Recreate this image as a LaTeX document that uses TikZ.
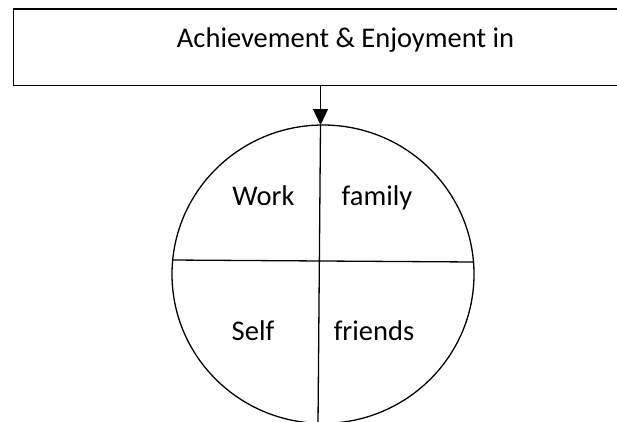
\documentclass[tikz,border=0pt]{standalone}
\usepackage{fontspec}
\setmainfont{Carlito}
\usetikzlibrary{arrows.meta,shapes.geometric}
\begin{document}
\begin{tikzpicture}[x=1pt,y=-1pt,
  frame/.style={draw=black,line width=1.5pt,inner sep=0pt},
  wheel/.style={draw=black,line width=1.3pt,ellipse,inner sep=0pt},
  divider/.style={draw=black,line width=1.3pt},
  label/.style={anchor=base,inner sep=0pt,font=\fontsize{28.5}{34}\selectfont},
  feed/.style={draw=black,line width=1.3pt,-{Triangle[length=16pt,width=15pt]}}]
  % canvas
  \fill[white] (0,0) rectangle (617,421);
  \useasboundingbox (0,0) rectangle (617,421);
  \clip (0,0) rectangle (617,421);

  % heading box (runs off the right edge)
  \node[frame,minimum width=627pt,minimum height=76.2pt,anchor=north west]
    (box) at (12.5,8.3) {};
  \node[label] (title) at (345.5,47) {Achievement \& Enjoyment in};

  % the four-part wheel
  \node[wheel,minimum width=302pt,minimum height=298.4pt] (wheel) at (323,274.2) {};

  \coordinate (top) at (320.5,125);
  \coordinate (bottom) at (318,424);
  \coordinate (left) at (172,260);
  \coordinate (right) at (474,262);

  \draw[feed] (box.south -| top) -- (top);
  \draw[divider] (top) -- (bottom);
  \draw[divider] (left) -- (right);

  \node[label] (work) at (263.5,205) {Work};
  \node[label] (family) at (377,205) {family};
  \node[label] (self) at (253,340) {Self};
  \node[label] (friends) at (374,340) {friends};
\end{tikzpicture}
\end{document}
